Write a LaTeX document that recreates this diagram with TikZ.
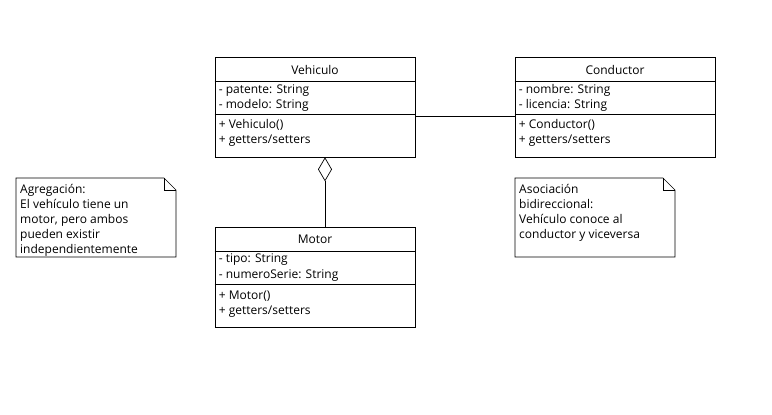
\documentclass[tikz,border=0pt]{standalone}
\usepackage{fontspec}
\setmainfont{Open Sans}
\usetikzlibrary{arrows.meta}
\tikzset{
  cls/.style={draw=black,line width=0.7pt,minimum width=200pt,minimum height=100pt,inner sep=0pt},
  ttl/.style={font=\fontsize{12}{14}\selectfont,inner sep=0pt},
  mem/.style={anchor=base west,font=\fontsize{12}{14}\selectfont,inner sep=0pt},
  note/.style={draw=black,line width=0.7pt,line join=miter},
  notetxt/.style={anchor=north west,align=left,font=\fontsize{12}{15}\selectfont,inner sep=0pt},
  link/.style={draw=black,line width=0.7pt},
}

\begin{document}
\begin{tikzpicture}[x=1pt,y=-1pt]
  \useasboundingbox (0,0) rectangle (772,415);

  % the three classes: frame, title, two compartments
  \node[cls] (veh) at (315,107){};
  \node[cls] (con) at (615,107){};
  \node[cls] (mot) at (315,277){};
  \foreach \c in {veh,con,mot}{
    \draw[link] ([yshift=-25pt]\c.north west) -- ([yshift=-25pt]\c.north east);
    \draw[link] ([yshift=-58pt]\c.north west) -- ([yshift=-58pt]\c.north east);
  }

  \node[ttl] (vehT) at ([yshift=-13pt]veh.north){Vehiculo};
  \node[mem] (vehA1) at ([shift={(4pt,-37pt)}]veh.north west){- patente: String};
  \node[mem] (vehA2) at ([shift={(4pt,-52pt)}]veh.north west){- modelo: String};
  \node[mem] (vehM1) at ([shift={(4pt,-72pt)}]veh.north west){+ Vehiculo()};
  \node[mem] (vehM2) at ([shift={(4pt,-87pt)}]veh.north west){+ getters/setters};

  \node[ttl] (conT) at ([yshift=-13pt]con.north){Conductor};
  \node[mem] (conA1) at ([shift={(4pt,-37pt)}]con.north west){- nombre: String};
  \node[mem] (conA2) at ([shift={(4pt,-52pt)}]con.north west){- licencia: String};
  \node[mem] (conM1) at ([shift={(4pt,-72pt)}]con.north west){+ Conductor()};
  \node[mem] (conM2) at ([shift={(4pt,-87pt)}]con.north west){+ getters/setters};

  \node[ttl] (motT) at ([yshift=-13pt]mot.north){Motor};
  \node[mem] (motA1) at ([shift={(4pt,-36pt)}]mot.north west){- tipo: String};
  \node[mem] (motA2) at ([shift={(4pt,-52pt)}]mot.north west){- numeroSerie: String};
  \node[mem] (motM1) at ([shift={(4pt,-73pt)}]mot.north west){+ Motor()};
  \node[mem] (motM2) at ([shift={(4pt,-88pt)}]mot.north west){+ getters/setters};

  % relations
  \draw[link] ([yshift=-60pt]veh.north east) -- ([yshift=-60pt]con.north west);
  \draw[link,-{Diamond[open,length=24pt,width=14pt]}] ([xshift=10pt]mot.north) -- ([xshift=10pt]veh.south);

  % notes with folded corner
  \draw[note] (16,178) -- (164,178) -- (176,190) -- (176,257) -- (16,257) -- cycle;
  \draw[note] (164,178) -- (164,190) -- (176,190);
  \node[notetxt] (aggN) at (20,184){Agregación:\\El vehículo tiene un\\motor, pero ambos\\pueden existir\\independientemente};

  \draw[note] (515,178) -- (663,178) -- (675,190) -- (675,257) -- (515,257) -- cycle;
  \draw[note] (663,178) -- (663,190) -- (675,190);
  \node[notetxt] (assN) at (519,184){Asociación\\bidireccional:\\Vehículo conoce al\\conductor y viceversa};
\end{tikzpicture}
\end{document}
